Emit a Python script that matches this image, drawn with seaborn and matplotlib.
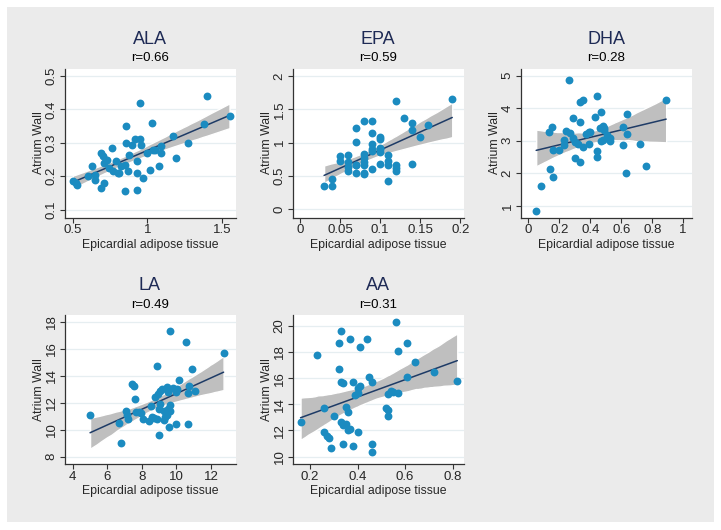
import numpy as np
import pandas as pd
import matplotlib
matplotlib.use("Agg")
import matplotlib.pyplot as plt
from matplotlib.collections import PolyCollection
from matplotlib.ticker import FuncFormatter
import seaborn as sns

# --- datos ---
ala_x = [0.50, 0.53, 0.52, 0.60, 0.63, 0.65, 0.65, 0.69, 0.70, 0.69, 0.71, 0.71, 0.72, 0.73,
         0.76, 0.74, 0.77, 0.79, 0.80, 0.82, 0.81, 0.85, 0.85, 0.86, 0.86, 0.87, 0.88, 0.90,
         0.92, 0.93, 0.93, 0.93, 0.95, 0.95, 0.96, 0.97, 1.00, 1.02, 1.03, 1.04, 1.05, 1.08,
         1.09, 1.09, 1.17, 1.19, 1.27, 1.38, 1.40, 1.55]
ala_y = [0.185, 0.175, 0.18, 0.20, 0.23, 0.205, 0.19, 0.27, 0.26, 0.165, 0.18, 0.24, 0.25, 0.25,
         0.285, 0.225, 0.215, 0.245, 0.21, 0.23, 0.21, 0.235, 0.155, 0.35, 0.30, 0.215, 0.265, 0.295,
         0.31, 0.245, 0.21, 0.16, 0.31, 0.42, 0.295, 0.195, 0.27, 0.22, 0.36, 0.28, 0.28, 0.23,
         0.27, 0.29, 0.32, 0.255, 0.30, 0.355, 0.44, 0.38]

epa_x = [0.03, 0.04, 0.04, 0.05, 0.05, 0.06, 0.06, 0.06, 0.06, 0.07, 0.07, 0.07, 0.07, 0.07,
         0.08, 0.08, 0.08, 0.08, 0.08, 0.08, 0.08, 0.09, 0.09, 0.09, 0.09, 0.09, 0.09, 0.10,
         0.10, 0.10, 0.10, 0.10, 0.10, 0.11, 0.11, 0.11, 0.11, 0.12, 0.12, 0.12, 0.12, 0.13,
         0.14, 0.14, 0.14, 0.15, 0.16, 0.19]
epa_y = [0.35, 0.35, 0.45, 0.80, 0.72, 0.82, 0.71, 0.64, 0.58, 1.22, 1.01, 0.67, 0.55, 0.66,
         1.33, 0.83, 0.77, 0.71, 0.67, 0.55, 0.53, 1.32, 1.14, 0.98, 0.90, 0.60, 0.87, 1.09,
         0.92, 0.90, 0.86, 0.68, 1.06, 0.81, 0.72, 0.67, 0.42, 1.63, 0.66, 0.62, 0.58, 1.37,
         1.30, 1.19, 0.68, 1.09, 1.27, 1.65]

dha_x = [0.05, 0.08, 0.13, 0.15, 0.14, 0.16, 0.16, 0.20, 0.23, 0.23, 0.24, 0.26, 0.27, 0.29,
         0.29, 0.30, 0.30, 0.32, 0.33, 0.35, 0.33, 0.33, 0.35, 0.37, 0.39, 0.40, 0.39, 0.43,
         0.44, 0.44, 0.44, 0.47, 0.46, 0.48, 0.49, 0.48, 0.51, 0.53, 0.53, 0.61, 0.61, 0.63,
         0.64, 0.64, 0.72, 0.76, 0.89, 0.49, 0.47]
dha_y = [0.84, 1.60, 3.27, 3.43, 2.14, 1.90, 2.73, 2.73, 2.86, 3.02, 3.30, 4.88, 3.24, 3.71,
         3.07, 2.96, 2.47, 2.91, 4.20, 4.26, 3.58, 2.36, 2.81, 3.20, 2.91, 3.27, 3.27, 3.74,
         4.36, 2.67, 2.50, 3.89, 3.40, 3.45, 3.40, 3.02, 3.17, 3.07, 3.00, 3.43, 2.88, 2.01,
         3.81, 3.20, 2.91, 2.22, 4.24, 3.33, 3.00]

la_x = [5.00, 6.67, 6.78, 7.10, 7.14, 7.20, 7.44, 7.57, 7.60, 7.66, 7.85, 7.94, 8.09, 8.41,
        8.56, 8.54, 8.69, 8.75, 8.88, 8.92, 8.88, 9.00, 9.03, 9.07, 8.98, 9.16, 9.26, 9.26,
        9.35, 9.45, 9.54, 9.50, 9.45, 9.60, 9.60, 9.58, 9.63, 9.82, 9.97, 9.97, 10.05, 10.12,
        10.57, 10.67, 10.67, 10.72, 10.91, 11.10, 12.73]
la_y = [11.08, 10.46, 9.02, 11.41, 11.11, 10.79, 13.35, 13.27, 12.28, 11.28, 11.28, 11.20, 10.79, 10.66,
        10.96, 11.73, 10.84, 12.40, 14.69, 12.65, 10.79, 9.62, 12.90, 11.90, 11.53, 13.00, 11.41, 10.74,
        10.90, 13.15, 12.78, 11.50, 11.10, 17.33, 11.86, 10.21, 11.40, 13.10, 12.78, 10.41, 12.98, 13.65,
        16.51, 10.41, 12.70, 13.20, 14.52, 12.85, 15.71]

aa_x = [0.16, 0.23, 0.26, 0.26, 0.27, 0.28, 0.29, 0.30, 0.32, 0.32, 0.33, 0.33, 0.34, 0.33,
        0.34, 0.35, 0.36, 0.35, 0.34, 0.37, 0.38, 0.36, 0.37, 0.38, 0.40, 0.39, 0.40, 0.41,
        0.40, 0.41, 0.44, 0.45, 0.46, 0.46, 0.46, 0.53, 0.54, 0.55, 0.57, 0.52, 0.53, 0.53,
        0.56, 0.57, 0.61, 0.61, 0.64, 0.72, 0.82]
aa_y = [12.67, 17.80, 13.70, 11.85, 11.60, 11.40, 10.70, 13.10, 18.70, 16.70, 19.60, 15.70, 15.64, 12.67,
        12.40, 13.80, 13.40, 12.50, 11.00, 19.00, 15.70, 12.05, 12.10, 10.80, 15.26, 14.70, 14.90, 15.40,
        11.90, 18.40, 19.00, 16.10, 15.70, 10.95, 10.35, 14.80, 15.00, 14.95, 14.90, 13.70, 13.60, 13.10,
        20.30, 18.10, 18.70, 16.10, 17.20, 16.50, 15.80]

panel_names = ["ALA", "EPA", "DHA", "LA", "AA"]
r_labels = ["r=0.66", "r=0.59", "r=0.28", "r=0.49", "r=0.31"]
x_ticks = [[0.5, 1, 1.5], [0, 0.05, 0.1, 0.15, 0.2], [0, 0.2, 0.4, 0.6, 0.8, 1],
           [4, 6, 8, 10, 12], [0.2, 0.4, 0.6, 0.8]]
y_ticks = [[0.1, 0.2, 0.3, 0.4, 0.5], [0, 0.5, 1, 1.5, 2], [1, 2, 3, 4, 5],
           [8, 10, 12, 14, 16, 18], [10, 12, 14, 16, 18, 20]]
x_lims = [(0.445, 1.59), (-0.0092, 0.2043), (-0.05, 1.055), (3.52, 13.42), (0.127, 0.847)]
y_lims = [(0.0765, 0.5225), (-0.12, 2.11), (0.64, 5.22), (7.45, 18.5), (9.44, 20.82)]
data_x = [ala_x, epa_x, dha_x, la_x, aa_x]
data_y = [ala_y, epa_y, dha_y, la_y, aa_y]

sns.set_theme(style="white")
plt.rcParams["font.family"] = ["Liberation Sans", "DejaVu Sans"]

W, H = 721, 530
fig = plt.figure(figsize=(W / 100, H / 100), dpi=100, facecolor="white")
# fondo gris tipo Stata
bg = fig.add_axes([7 / W, 8 / H, 707 / W, 515 / H], zorder=-10)
bg.set_facecolor("#EBEBEB")
bg.set_xticks([])
bg.set_yticks([])
for s in bg.spines.values():
    s.set_visible(False)

dot_color = "#1B8BC0"
line_color = "#1E3B66"
ci_color = "#BFBFBF"

# posiciones de los paneles en pixeles (izq, arriba)
pos = [(64.5, 68.5), (292.7, 68.5), (520.7, 68.5), (64.5, 315), (292.7, 315)]
aw, ah = 171, 149

fmt = FuncFormatter(lambda v, p: "{:g}".format(round(v, 4)))

for i in range(5):
    left, top = pos[i]
    ax = fig.add_axes([left / W, 1 - (top + ah) / H, aw / W, ah / H])
    ax.set_facecolor("white")
    df = pd.DataFrame({"x": data_x[i], "y": data_y[i]})

    ax.yaxis.grid(True, color="#E6EEF1", linewidth=0.9, zorder=0)
    ax.xaxis.grid(False)
    ax.set_axisbelow(True)

    sns.regplot(data=df, x="x", y="y", ax=ax, scatter=False, ci=95, color=ci_color,
                line_kws=dict(color=line_color, linewidth=1.1, zorder=3))
    for coll in ax.collections:
        if isinstance(coll, PolyCollection):
            coll.set_facecolor(ci_color)
            coll.set_alpha(1)
            coll.set_zorder(2)
    sns.scatterplot(data=df, x="x", y="y", ax=ax, color=dot_color, s=32,
                    linewidth=0, zorder=4)

    ax.set_xticks(x_ticks[i])
    ax.set_yticks(y_ticks[i])
    ax.set_xlim(*x_lims[i])
    ax.set_ylim(*y_lims[i])
    ax.xaxis.set_major_formatter(fmt)
    ax.yaxis.set_major_formatter(fmt)

    for side in ["top", "right"]:
        ax.spines[side].set_visible(False)
    for side in ["left", "bottom"]:
        ax.spines[side].set_color("#333333")
        ax.spines[side].set_linewidth(0.9)

    ax.tick_params(axis="both", direction="out", length=3.5, width=0.8, color="#333333",
                   labelsize=9.5, pad=1.5, bottom=True, left=True)
    for lab in ax.get_yticklabels():
        lab.set_rotation(90)
        lab.set_va("center")

    ax.set_xlabel("Epicardial adipose tissue", fontsize=8.8, labelpad=1.5)
    ax.set_ylabel("Atrium Wall", fontsize=8.8, labelpad=0.5)

    ax.text(0.5, 1.195, panel_names[i], transform=ax.transAxes, ha="center", va="center",
            fontsize=13, color="#1E2A55")
    ax.text(0.5, 1.07, r_labels[i], transform=ax.transAxes, ha="center", va="center",
            fontsize=9.5, color="black")

fig.savefig("out.png", dpi=100, facecolor="white")
